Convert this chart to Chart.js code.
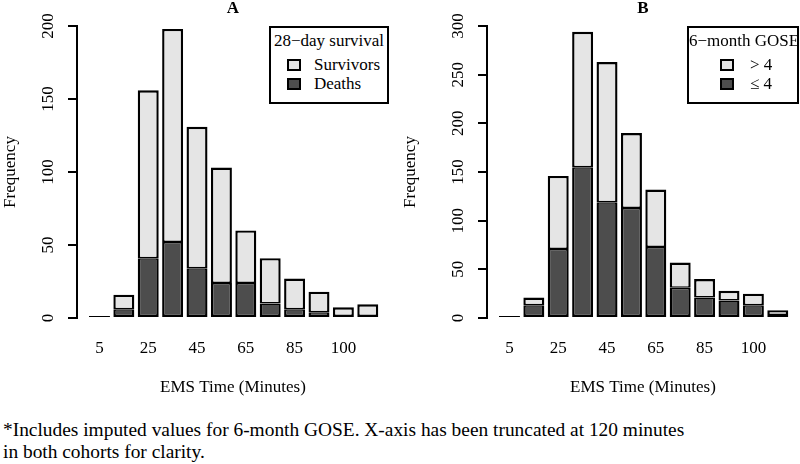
<!DOCTYPE html>
<html>
<head>
<meta charset="utf-8">
<script src="https://cdn.jsdelivr.net/npm/chart.js@4.4.1/dist/chart.umd.min.js"></script>
<style>
  body { margin: 0; width: 800px; height: 464px; background: #fff; position: relative; overflow: hidden;
         font-family: 'Liberation Serif', 'Times New Roman', serif; color: #000; }
  canvas { position: absolute; top: 0; }
  .ptitle { position: absolute; top: -2px; width: 40px; font-weight: bold; font-size: 17px; line-height: 20px; text-align: center; }
  .legend { position: absolute; top: 26px; height: 78px; border: 2px solid #000; box-sizing: border-box; font-size: 17px; background: #fff; }
  .legend .ltitle { position: absolute; left: 0; right: 0; top: 3px; line-height: 20px; text-align: center; white-space: nowrap; }
  .legend .row { position: absolute; left: 0; right: 0; height: 20px; line-height: 20px; white-space: nowrap; }
  .legend .sw { position: absolute; top: 4px; width: 14px; height: 12px; border: 2px solid #000; box-sizing: border-box; }
  .legend .txt { position: absolute; top: 0; }
  .note { position: absolute; left: 3px; top: 419px; font-size: 19.4px; line-height: 22px; white-space: nowrap; }
</style>
</head>
<body>
<canvas id="chartA" width="400" height="400" style="left:0"></canvas>
<canvas id="chartB" width="400" height="400" style="left:400px"></canvas>

<div class="ptitle" style="left:213px">A</div>
<div class="ptitle" style="left:623px">B</div>

<div class="legend" style="left:269px; width:120px">
  <div class="ltitle">28&#8722;day survival</div>
  <div class="row" style="top:27px"><span class="sw" style="left:16px; background:#e5e5e5"></span><span class="txt" style="left:43px">Survivors</span></div>
  <div class="row" style="top:46px"><span class="sw" style="left:16px; background:#4d4d4d"></span><span class="txt" style="left:43px">Deaths</span></div>
</div>
<div class="legend" style="left:687px; width:112px">
  <div class="ltitle">6&#8722;month GOSE</div>
  <div class="row" style="top:27px"><span class="sw" style="left:31px; background:#e5e5e5"></span><span class="txt" style="left:61px">&gt; 4</span></div>
  <div class="row" style="top:46px"><span class="sw" style="left:31px; background:#4d4d4d"></span><span class="txt" style="left:61px">&le; 4</span></div>
</div>

<div class="note">*Includes imputed values for 6-month GOSE. X-axis has been truncated at 120 minutes<br>in both cohorts for clarity.</div>

<script>
// bin midpoints (10-minute bins, 0-120)
const binMid = [5, 15, 25, 35, 45, 55, 65, 75, 85, 95, 105, 115];
const tickPos = [5, 25, 45, 65, 85, 105];
const tickText = ['5', '25', '45', '65', '85', '100'];

// A: 28-day survival
const survivorsA = [0, 10, 115, 146, 97, 79, 36, 31, 21, 14, 6, 8];
const deathsA = [0, 6, 41, 52, 34, 24, 24, 10, 6, 4, 0, 0];

// B: 6-month GOSE
const goseHighB = [0, 8, 75, 139, 144, 77, 59, 26, 19, 10, 12, 5];
const goseLowB = [0, 13, 71, 155, 119, 113, 73, 31, 21, 18, 13, 3];

const LIGHT = '#e5e5e5';
const DARK = '#4d4d4d';

Chart.defaults.font.family = "'Liberation Serif', 'Times New Roman', serif";
Chart.defaults.font.size = 17;
Chart.defaults.color = '#000';

function makeHist(id, low, high, lowLabel, highLabel, yMax, axisWidth, padRight) {
    return new Chart(document.getElementById(id), {
        type: 'bar',
        data: {
            datasets: [
                {
                    label: lowLabel,
                    data: binMid.map((x, i) => ({ x, y: low[i] })),
                    backgroundColor: DARK,
                    borderColor: '#000',
                    borderWidth: { top: 1.5, left: 2.4, right: 2.4, bottom: 2.4 },
                    borderSkipped: false,
                    minBarLength: 2,
                },
                {
                    label: highLabel,
                    data: binMid.map((x, i) => ({ x, y: high[i] })),
                    backgroundColor: LIGHT,
                    borderColor: '#000',
                    borderWidth: { top: 2.4, left: 2.4, right: 2.4, bottom: 1.5 },
                    borderSkipped: false,
                },
            ],
        },
        options: {
            responsive: false,
            animation: false,
            layout: { padding: { top: 26, right: padRight, left: 0, bottom: 0 } },
            plugins: { legend: { display: false }, tooltip: { enabled: false } },
            datasets: { bar: { categoryPercentage: 1, barPercentage: 0.86 } },
            scales: {
                x: {
                    type: 'linear',
                    stacked: true,
                    offset: false,
                    min: -4.2,
                    max: 123.7,
                    grid: { display: false, drawTicks: false },
                    border: { display: false },
                    afterBuildTicks: s => { s.ticks = tickPos.map(v => ({ value: v })); },
                    afterFit: s => { s.height = 82; },
                    ticks: { autoSkip: false, maxRotation: 0, padding: 20, callback: (v, i) => tickText[i] },
                    title: { display: true, text: 'EMS Time (Minutes)', padding: { top: 0, bottom: 2 } },
                },
                y: {
                    stacked: true,
                    min: 0,
                    max: yMax,
                    afterFit: s => { s.width = axisWidth; },
                    ticks: { stepSize: 50, minRotation: 90, maxRotation: 90, crossAlign: 'center', padding: 7 },
                    grid: { drawOnChartArea: false, color: '#000', lineWidth: 2, tickLength: 9 },
                    border: { color: '#000', width: 2 },
                    title: { display: true, text: 'Frequency', padding: { top: 0, bottom: 0 } },
                },
            },
        },
    });
}

makeHist('chartA', deathsA, survivorsA, 'Deaths', 'Survivors', 200, 77, 11);
makeHist('chartB', goseLowB, goseHighB, '\u2264 4', '> 4', 300, 87, 1);
</script>
</body>
</html>
